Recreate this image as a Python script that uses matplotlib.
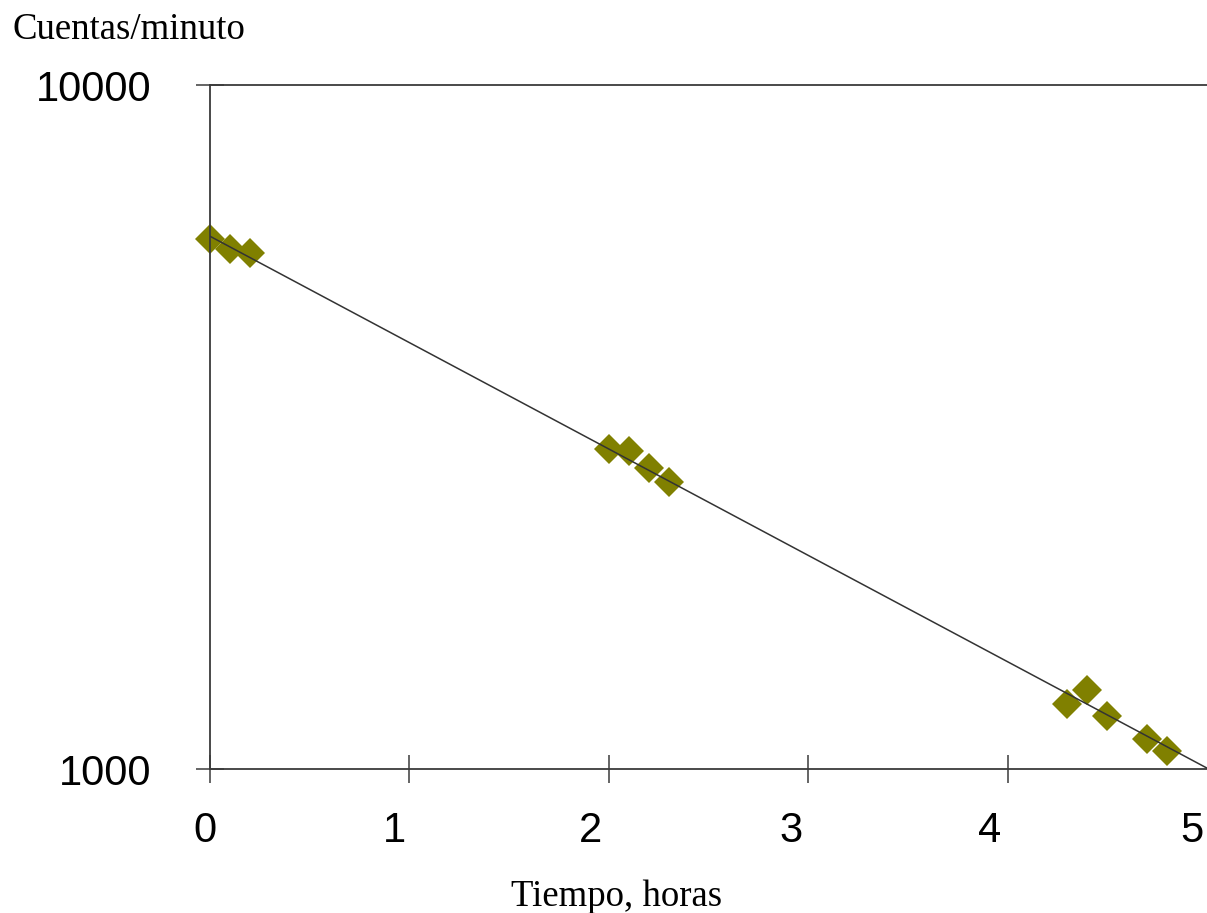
#!/usr/bin/env python3
"""
Decaimiento radiactivo: cuentas por minuto vs tiempo (escala log).
Saves out.png
"""

import matplotlib.pyplot as plt
import matplotlib.transforms as mtransforms
from matplotlib.ticker import NullLocator

# --- data ---
tiempo = [0.0, 0.1, 0.2, 2.0, 2.1, 2.2, 2.3, 4.3, 4.4, 4.5, 4.7, 4.8]
cuentas = [5960, 5750, 5680, 2940, 2920, 2750, 2630, 1245, 1305, 1195, 1107, 1062]

ajuste_x = [0.0, 5.0]
ajuste_y = [6010, 1003]

x_ticks = [0, 1, 2, 3, 4, 5]
x_labels = ["0", "1", "2", "3", "4", "5"]
y_ticks = [1000, 10000]
y_labels = ["1000", "10000"]

# horizontal nudge (px) of the x tick labels, as in the original
x_label_shift = [-5, -15, -18, -17, -18, -15]

AXIS_COLOR = "#3a3a3a"
MARKER_COLOR = "#808000"
SERIF = "Liberation Serif"
SANS = "Liberation Sans"

fig = plt.figure(figsize=(12.07, 9.13), dpi=100)
W, H = 1207, 913
ax = fig.add_axes([210 / W, 1 - 769 / H, (1207 - 210) / W, (769 - 85) / H])

ax.set_yscale("log")
ax.set_xlim(0, 5)
ax.set_ylim(1000, 10000)

ax.plot(ajuste_x, ajuste_y, color="#333333", lw=1.1, zorder=3)
ax.plot(tiempo, cuentas, linestyle="none", marker="D", ms=15.5,
        color=MARKER_COLOR, markeredgewidth=0, zorder=2, clip_on=False)

ax.spines["right"].set_visible(False)
for side in ["top", "left", "bottom"]:
    ax.spines[side].set_color(AXIS_COLOR)
    ax.spines[side].set_linewidth(1.3)

ax.set_xticks(x_ticks)
ax.set_xticklabels(x_labels, fontsize=30, family=SANS)
ax.set_yticks(y_ticks)
ax.set_yticklabels(y_labels, fontsize=30, family=SANS)
ax.yaxis.set_minor_locator(NullLocator())
ax.xaxis.set_minor_locator(NullLocator())

ax.tick_params(axis="x", direction="inout", length=20, width=1.1,
               color=AXIS_COLOR, pad=20)
ax.tick_params(axis="y", direction="inout", length=20, width=1.1,
               color=AXIS_COLOR, pad=32)

# no tick mark at the right edge
ax.xaxis.get_major_ticks()[-1].tick1line.set_visible(False)

for lbl, dx in zip(ax.get_xticklabels(), x_label_shift):
    off = mtransforms.ScaledTranslation(dx / 100, 0, fig.dpi_scale_trans)
    lbl.set_transform(lbl.get_transform() + off)

fig.text(12 / W, 1 - 30 / H, "Cuentas/minuto", fontsize=26.5, family=SERIF,
         ha="left", va="center")
fig.text(617 / W, 1 - 897 / H, "Tiempo, horas", fontsize=26.5, family=SERIF,
         ha="center", va="center")

fig.savefig("out.png", dpi=100)
print("Saved: out.png")
